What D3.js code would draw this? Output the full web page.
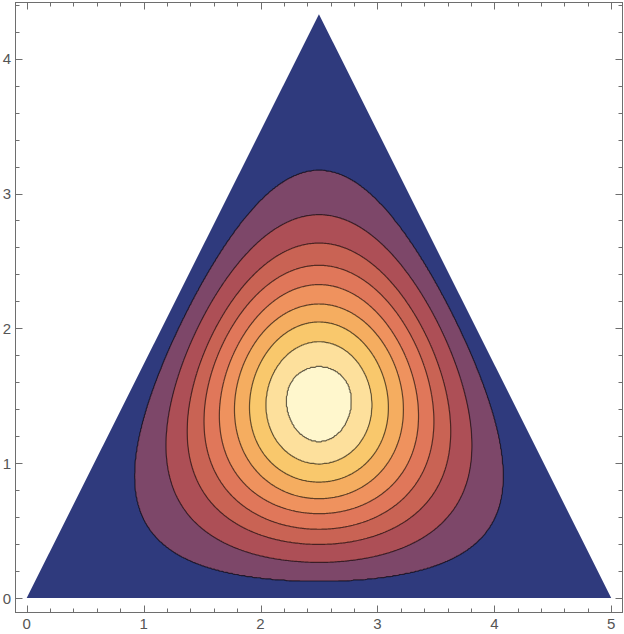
<!DOCTYPE html>
<html>
<head>
<meta charset="utf-8">
<script src="https://cdn.jsdelivr.net/npm/d3@7"></script>
<style>
  html, body { margin: 0; padding: 0; background: #fff; }
  svg { display: block; }
</style>
</head>
<body>
<svg id="chart" width="624" height="634"></svg>
<script>
// ---- data ----
const triangleX = [0, 5, 2.5];
const triangleY = [0, 0, 4.3301];
const xTicks = [0, 1, 2, 3, 4, 5];
const yTicks = [0, 1, 2, 3, 4];
// where each contour crosses the vertical line x = 2.5, outermost (1) to innermost (9)
const contourTopY     = [3.170, 2.842, 2.632, 2.467, 2.324, 2.180, 2.047, 1.899, 1.719];
const contourBottomY  = [0.126, 0.265, 0.398, 0.510, 0.626, 0.737, 0.860, 0.996, 1.157];
const contourLevels   = [1, 2, 3, 4, 5, 6, 7, 8, 9];
const bandColors = ["#2f3a7d", "#7d4769", "#ad4f56", "#c96354", "#e0775a",
                    "#ef925e", "#f5ad60", "#f9c86c", "#fde09c", "#fff7cd"];

// ---- layout ----
const frame = {left: 15, right: 623, top: 2, bottom: 613};
const x = d3.scaleLinear().domain([0, 5]).range([26.7, 611.2]);
const y = d3.scaleLinear().domain([0, 4.33]).range([598, 14.2]);

const svg = d3.select("#chart");
const H = triangleY[2];

// barycentric coordinates of a point in the triangle
function bary(px, py) {
  const b3 = py / H;
  const b2 = px / triangleX[1] - py / (2 * H);
  return [1 - b2 - b3, b2, b3];
}
// smooth three-fold symmetric shape family (Tsallis form), p shapes the contour
function S(b, p) {
  if (Math.abs(p - 1) < 1e-6) return -d3.sum(b, v => v > 0 ? v * Math.log(v) : 0);
  return (1 - d3.sum(b, v => Math.pow(Math.max(v, 0), p))) / (p - 1);
}
// per contour: pick p so that the top and bottom crossings lie on one level set
const shapes = contourLevels.map((lv, i) => {
  const bt = bary(2.5, contourTopY[i]);
  const bb = bary(2.5, contourBottomY[i]);
  const D = p => S(bt, p) - S(bb, p);
  let lo = 0.05, hi = 3.5;
  let p;
  if (D(lo) * D(hi) > 0) {
    p = Math.abs(D(lo)) < Math.abs(D(hi)) ? lo : hi;
  } else {
    for (let it = 0; it < 60; it++) {
      const mid = (lo + hi) / 2;
      if (D(lo) * D(mid) <= 0) hi = mid; else lo = mid;
    }
    p = (lo + hi) / 2;
  }
  const C = (S(bt, p) + S(bb, p)) / 2;
  return {p, C};
});

function fieldValue(px, py) {
  const b = bary(px, py);
  if (b[0] < 0 || b[1] < 0 || b[2] < 0) return 0;
  const g = shapes.map(s => S(b, s.p) - s.C);
  const n = g.length;
  if (g[0] < 0) return contourLevels[0] + g[0] / Math.abs(shapes[0].C);
  for (let k = 0; k < n - 1; k++) {
    if (g[k] >= 0 && g[k + 1] < 0) return contourLevels[k] + g[k] / (g[k] - g[k + 1]);
  }
  return contourLevels[n - 1] + 1e-6 + g[n - 1];
}

// grid
const step = 0.008;
const gx0 = -0.05, gy0 = -0.05;
const nx = Math.ceil((5.1 - gx0) / step), ny = Math.ceil((4.45 - gy0) / step);
const values = new Float64Array(nx * ny);
for (let j = 0; j < ny; j++) {
  for (let i = 0; i < nx; i++) {
    values[j * nx + i] = fieldValue(gx0 + i * step, gy0 + j * step);
  }
}
const contours = d3.contours().size([nx, ny]).thresholds(contourLevels)(values);
const proj = d3.geoTransform({
  point: function(px, py) {
    this.stream.point(x(gx0 + (px - 0.5) * step), y(gy0 + (py - 0.5) * step));
  }
});
const path = d3.geoPath(proj);

// triangle
const triPts = triangleX.map((v, i) => [x(v), y(triangleY[i])]);
svg.append("clipPath").attr("id", "tri")
  .append("polygon").attr("points", triPts.map(p => p.join(",")).join(" "));
svg.append("polygon")
  .attr("points", triPts.map(p => p.join(",")).join(" "))
  .attr("fill", bandColors[0]);

const g = svg.append("g").attr("clip-path", "url(#tri)");
g.selectAll("path.band").data(contours).join("path")
  .attr("class", "band")
  .attr("d", path)
  .attr("fill", (d, i) => bandColors[i + 1])
  .attr("stroke", "rgba(0,0,0,0.6)")
  .attr("stroke-width", 1.2)
  .attr("stroke-linejoin", "round");

// ---- frame ----
const frameColor = "#6e6e6e";
svg.append("rect")
  .attr("x", frame.left + 0.5).attr("y", frame.top + 0.5)
  .attr("width", frame.right - frame.left - 1).attr("height", frame.bottom - frame.top - 1)
  .attr("fill", "none").attr("stroke", frameColor).attr("stroke-width", 1);

const fb = frame.bottom - 0.5, ft = frame.top + 0.5, fl = frame.left + 0.5, fr = frame.right - 0.5;
const xMinor = d3.range(0, 5.0001, 0.2);
const yMinor = d3.range(0, 4.40001, 0.2);
const tg = svg.append("g").attr("stroke", frameColor).attr("stroke-width", 1);
xMinor.forEach(v => {
  const major = Math.abs(v - Math.round(v)) < 1e-6;
  const len = major ? 7 : 4;
  const px = Math.round(x(v)) + 0.5;
  tg.append("line").attr("x1", px).attr("x2", px).attr("y1", fb).attr("y2", fb - len);
  tg.append("line").attr("x1", px).attr("x2", px).attr("y1", ft).attr("y2", ft + len);
});
yMinor.forEach(v => {
  const major = Math.abs(v - Math.round(v)) < 1e-6;
  const len = major ? 7 : 4;
  const py = Math.round(y(v)) + 0.5;
  tg.append("line").attr("y1", py).attr("y2", py).attr("x1", fl).attr("x2", fl + len);
  tg.append("line").attr("y1", py).attr("y2", py).attr("x1", fr).attr("x2", fr - len);
});

const labelFont = "'Liberation Sans', Arial, sans-serif";
svg.append("g").selectAll("text").data(xTicks).join("text")
  .attr("x", d => x(d)).attr("y", 629)
  .attr("text-anchor", "middle")
  .attr("font-family", labelFont).attr("font-size", 15).attr("fill", "#555")
  .text(d => d);
svg.append("g").selectAll("text").data(yTicks).join("text")
  .attr("x", 11).attr("y", d => y(d) + 5.5)
  .attr("text-anchor", "end")
  .attr("font-family", labelFont).attr("font-size", 15).attr("fill", "#555")
  .text(d => d);
</script>
</body>
</html>
